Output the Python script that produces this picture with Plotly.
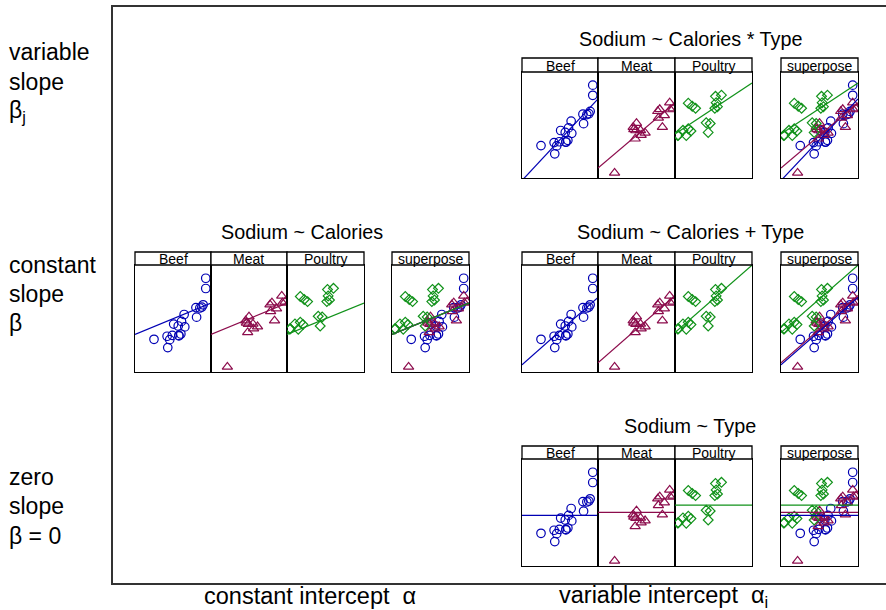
import numpy as np
import plotly.graph_objects as go

# ---------------- data (hot dog data: Calories, Sodium by Type) ----------------
types = ["Beef", "Meat", "Poultry"]
beef_calories = [186, 181, 176, 149, 184, 190, 158, 139, 175, 148, 152, 111, 141, 153, 190, 157, 131, 149, 135, 132]
beef_sodium = [495, 477, 425, 322, 482, 587, 370, 322, 479, 375, 330, 300, 386, 401, 645, 440, 317, 319, 298, 253]
meat_calories = [173, 191, 182, 190, 172, 147, 146, 139, 175, 136, 179, 153, 107, 195, 135, 140, 138]
meat_sodium = [458, 506, 473, 545, 496, 360, 387, 386, 507, 393, 405, 372, 144, 511, 405, 428, 339]
poultry_calories = [129, 132, 102, 106, 94, 102, 87, 99, 108, 113, 135, 142, 86, 143, 152, 146, 144]
poultry_sodium = [430, 375, 396, 383, 387, 542, 359, 357, 525, 513, 426, 513, 358, 581, 588, 522, 545]

titles = ["Sodium ~ Calories * Type", "Sodium ~ Calories", "Sodium ~ Calories + Type", "Sodium ~ Type"]
strip_labels = ["Beef", "Meat", "Poultry", "superpose"]
row_labels = [["variable", "slope", "β<sub>j</sub>"],
              ["constant", "slope", "β"],
              ["zero", "slope", "β = 0"]]
col_labels = ["constant intercept  α", "variable intercept  α<sub>i</sub>"]

cal = {"Beef": np.array(beef_calories, float), "Meat": np.array(meat_calories, float),
       "Poultry": np.array(poultry_calories, float)}
sod = {"Beef": np.array(beef_sodium, float), "Meat": np.array(meat_sodium, float),
       "Poultry": np.array(poultry_sodium, float)}

# ---------------- model fits ----------------
fit_inter = {}
for t in types:
    b, a = np.polyfit(cal[t], sod[t], 1)
    fit_inter[t] = (a, b)

all_c = np.concatenate([cal[t] for t in types])
all_s = np.concatenate([sod[t] for t in types])
b0, a0 = np.polyfit(all_c, all_s, 1)
fit_cal = {t: (a0, b0) for t in types}

cols = [all_c]
for t in types:
    cols.append(np.concatenate([np.full(len(cal[u]), 1.0 if u == t else 0.0) for u in types]))
X = np.column_stack(cols)
coef, *_ = np.linalg.lstsq(X, all_s, rcond=None)
fit_add = {t: (coef[i + 1], coef[0]) for i, t in enumerate(types)}

fit_type = {t: (sod[t].mean(), 0.0) for t in types}

# ---------------- style ----------------
colors = {"Beef": "#0000b4", "Meat": "#8c0c4c", "Poultry": "#11921a"}
symbols = {"Beef": "circle-open", "Meat": "triangle-up-open", "Poultry": "diamond-open"}
sizes = {"Beef": 8.5, "Meat": 9, "Poultry": 7.5}
FONT = "Liberation Sans, Arial, Helvetica, sans-serif"
W, H = 886, 610
XR = [82, 198]
YR = [115, 720]


def px(x):
    return x / W


def py(y):
    return 1 - y / H


right_xs = ([522, 598], [598, 675], [675, 752], [781, 858])
left_xs = ([135, 211], [211, 287], [287, 364], [392, 469])
groups = [
    dict(title=titles[0], fit=fit_inter, xs=right_xs, strip=(58, 72), bottom=178, ty=39),
    dict(title=titles[1], fit=fit_cal, xs=left_xs, strip=(252, 265), bottom=372, ty=232),
    dict(title=titles[2], fit=fit_add, xs=right_xs, strip=(252, 265), bottom=372, ty=232),
    dict(title=titles[3], fit=fit_type, xs=right_xs, strip=(446, 459), bottom=566, ty=426),
]

fig = go.Figure()
layout = {}
shapes = []
annotations = []
k = 0
xline = np.array(XR, float)
for g in groups:
    for p in range(4):
        k += 1
        sfx = "" if k == 1 else str(k)
        x0, x1 = g["xs"][p]
        layout["xaxis" + sfx] = dict(domain=[px(x0), px(x1)], range=XR, anchor="y" + sfx,
                                     showticklabels=False, ticks="", showgrid=False, zeroline=False,
                                     showline=True, mirror=True, linecolor="black", linewidth=1.3,
                                     fixedrange=True)
        layout["yaxis" + sfx] = dict(domain=[py(g["bottom"]), py(g["strip"][1])], range=YR,
                                     anchor="x" + sfx,
                                     showticklabels=False, ticks="", showgrid=False, zeroline=False,
                                     showline=True, mirror=True, linecolor="black", linewidth=1.3,
                                     fixedrange=True)
        xa, ya = "x" + sfx, "y" + sfx
        panel_types = types if p == 3 else [types[p]]
        for t in panel_types:
            fig.add_trace(go.Scatter(x=cal[t], y=sod[t], mode="markers", xaxis=xa, yaxis=ya,
                                     marker=dict(symbol=symbols[t], size=sizes[t], color=colors[t],
                                                 line=dict(width=1.2, color=colors[t])),
                                     hoverinfo="skip"))
        for t in panel_types:
            a, b = g["fit"][t]
            fig.add_trace(go.Scatter(x=xline, y=a + b * xline, mode="lines", xaxis=xa, yaxis=ya,
                                     line=dict(color=colors[t], width=1.2), hoverinfo="skip"))
        # strip
        shapes.append(dict(type="rect", xref="paper", yref="paper", x0=px(x0), x1=px(x1),
                           y0=py(g["strip"][1]), y1=py(g["strip"][0]), fillcolor="white",
                           line=dict(color="black", width=1.3), layer="above"))
        annotations.append(dict(xref="paper", yref="paper", x=px((x0 + x1) / 2),
                                y=py(g["strip"][1] + 3.8), yanchor="bottom", xanchor="center",
                                showarrow=False, text=strip_labels[p],
                                font=dict(family=FONT, size=14, color="black")))
    xs = g["xs"]
    annotations.append(dict(xref="paper", yref="paper", x=px((xs[0][0] + xs[3][1]) / 2),
                            y=py(g["ty"]), yanchor="middle", xanchor="center", showarrow=False,
                            text=g["title"], font=dict(family=FONT, size=19.8, color="black")))

# row labels
row_ys = [[52, 82, 112], [265, 294, 323], [477, 506, 536]]
for labels, ys in zip(row_labels, row_ys):
    for txt, yy in zip(labels, ys):
        annotations.append(dict(xref="paper", yref="paper", x=px(7), y=py(yy), xanchor="left",
                                yanchor="middle", showarrow=False, text=txt,
                                font=dict(family=FONT, size=23, color="black")))
# column labels
for txt, xx in zip(col_labels, [310, 663]):
    annotations.append(dict(xref="paper", yref="paper", x=px(xx), y=py(596), xanchor="center",
                            yanchor="middle", showarrow=False, text=txt,
                            font=dict(family=FONT, size=23.5, color="black")))

# outer frame
shapes.append(dict(type="rect", xref="paper", yref="paper", x0=px(112), x1=px(900),
                   y0=py(584), y1=py(6), line=dict(color="#333333", width=2),
                   fillcolor="rgba(0,0,0,0)", layer="below"))

fig.update_layout(width=W, height=H, margin=dict(l=0, r=0, t=0, b=0, pad=0),
                  showlegend=False, plot_bgcolor="white", paper_bgcolor="white",
                  shapes=shapes, annotations=annotations, **layout)
fig.write_html("out.html", config={"displayModeBar": False},
               post_script="document.body.style.margin='0';document.body.style.overflow='hidden';")
